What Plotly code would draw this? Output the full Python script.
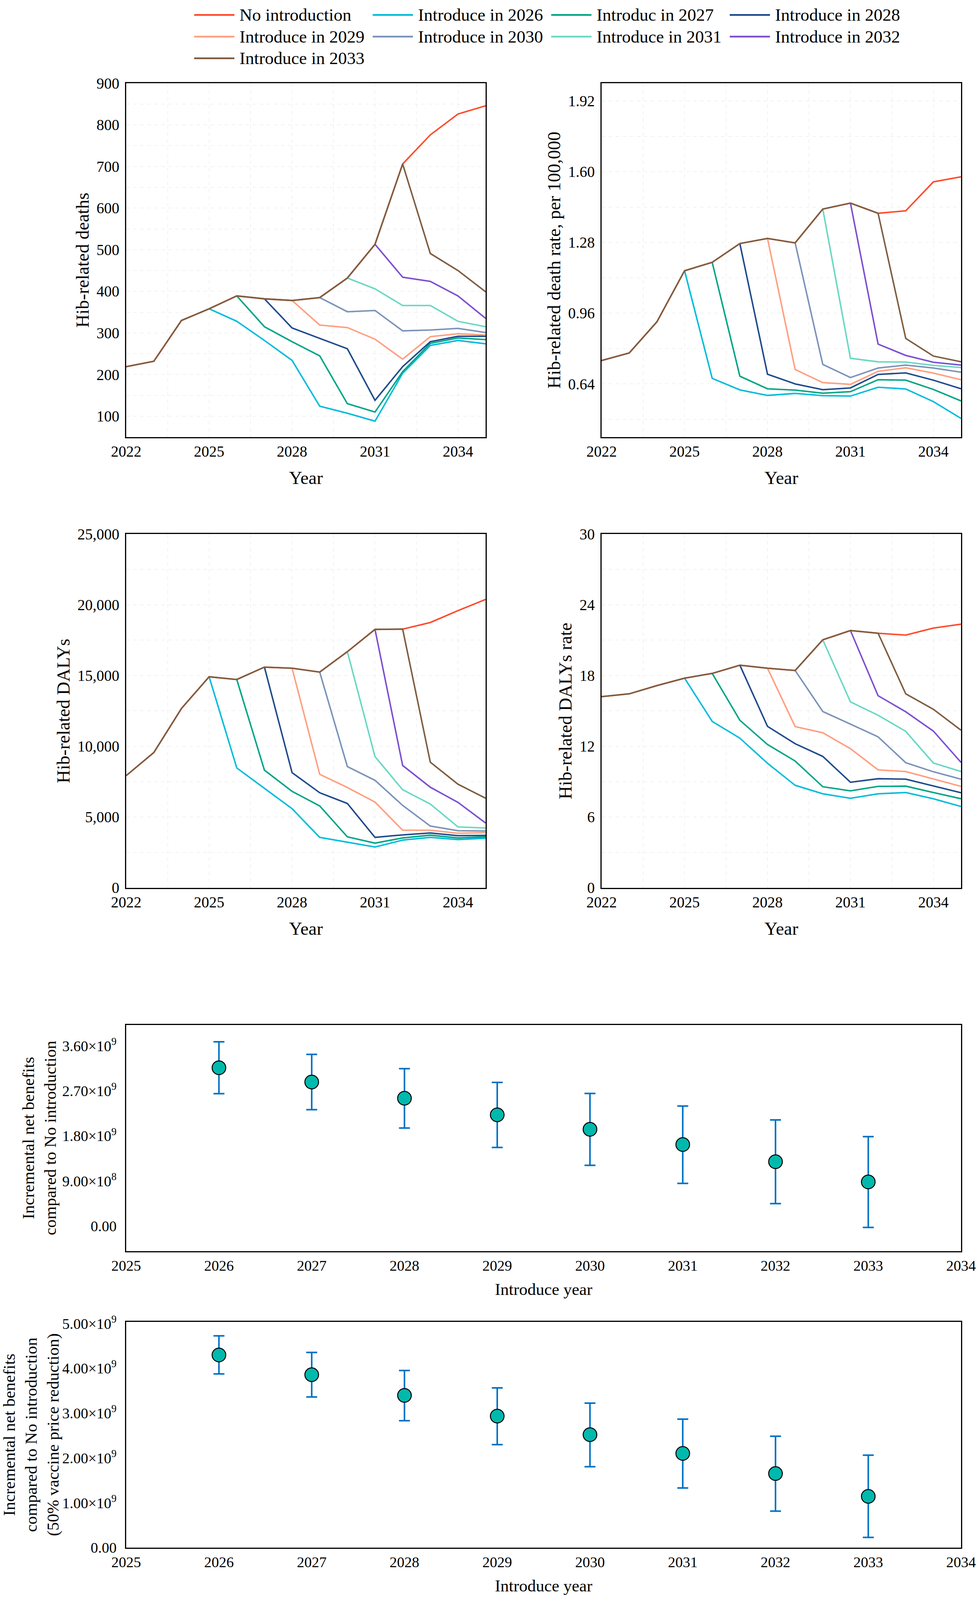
import plotly.graph_objects as go

# ---- data ----
years = list(range(2022, 2036))

scenario_names = ['No introduction', 'Introduce in 2026', 'Introduc in 2027', 'Introduce in 2028',
                  'Introduce in 2029', 'Introduce in 2030', 'Introduce in 2031', 'Introduce in 2032',
                  'Introduce in 2033']
scenario_colors = ['#FF4A2A', '#00BCDB', '#00A585', '#1F4A8C', '#FF9F80',
                   '#7B93B9', '#6AD8C3', '#7D4FD1', '#7E5D40']

N = None
deaths = [
    [219, 232, 330, 358, 389, 382, 378, 385, 432, 513, 706, 776, 826, 846],
    [N, N, N, 358, 328, 282, 234, 124, 107, 88, 203, 270, 282, 274],
    [N, N, N, N, 389, 315, 279, 245, 130, 110, 207, 275, 288, 284],
    [N, N, N, N, N, 382, 312, 287, 262, 138, 219, 279, 292, 292],
    [N, N, N, N, N, N, 378, 319, 313, 285, 237, 291, 298, 295],
    [N, N, N, N, N, N, N, 385, 351, 354, 305, 307, 311, 301],
    [N, N, N, N, N, N, N, N, 432, 406, 366, 366, 328, 315],
    [N, N, N, N, N, N, N, N, N, 513, 434, 424, 389, 335],
    [219, 232, 330, 358, 389, 382, 378, 385, 432, 513, 706, 491, 450, 399],
]

death_rate = [
    [0.746, 0.780, 0.921, 1.152, 1.190, 1.275, 1.298, 1.278, 1.431, 1.458, 1.412, 1.423, 1.554, 1.577],
    [N, N, N, 1.152, 0.665, 0.613, 0.588, 0.597, 0.587, 0.585, 0.625, 0.617, 0.560, 0.484],
    [N, N, N, N, 1.190, 0.675, 0.618, 0.612, 0.598, 0.605, 0.659, 0.657, 0.615, 0.563],
    [N, N, N, N, N, 1.275, 0.684, 0.640, 0.614, 0.622, 0.683, 0.690, 0.657, 0.618],
    [N, N, N, N, N, N, 1.298, 0.705, 0.646, 0.638, 0.697, 0.713, 0.689, 0.659],
    [N, N, N, N, N, N, N, 1.278, 0.728, 0.669, 0.712, 0.725, 0.712, 0.693],
    [N, N, N, N, N, N, N, N, 1.431, 0.756, 0.740, 0.739, 0.724, 0.714],
    [N, N, N, N, N, N, N, N, N, 1.458, 0.820, 0.769, 0.738, 0.725],
    [0.746, 0.780, 0.921, 1.152, 1.190, 1.275, 1.298, 1.278, 1.431, 1.458, 1.412, 0.846, 0.766, 0.740],
]

dalys = [
    [7925, 9560, 12675, 14914, 14720, 15596, 15518, 15245, 16686, 18263, 18283, 18750, 19587, 20385],
    [N, N, N, 14914, 8469, 7029, 5588, 3563, 3232, 2882, 3368, 3563, 3407, 3505],
    [N, N, N, N, 14720, 8314, 6815, 5783, 3602, 3154, 3524, 3719, 3524, 3602],
    [N, N, N, N, N, 15596, 8138, 6717, 5958, 3563, 3738, 3875, 3680, 3700],
    [N, N, N, N, N, N, 15518, 8022, 7087, 6055, 4069, 4069, 3855, 3894],
    [N, N, N, N, N, N, N, 15245, 8567, 7593, 5822, 4361, 4030, 4011],
    [N, N, N, N, N, N, N, N, 16686, 9268, 6931, 5919, 4303, 4225],
    [N, N, N, N, N, N, N, N, N, 18263, 8645, 7107, 6036, 4575],
    [7925, 9560, 12675, 14914, 14720, 15596, 15518, 15245, 16686, 18263, 18283, 8878, 7321, 6328],
]

daly_rate = [
    [16.21, 16.45, 17.15, 17.78, 18.18, 18.88, 18.62, 18.43, 21.03, 21.82, 21.59, 21.43, 22.03, 22.36],
    [N, N, N, 17.78, 14.11, 12.69, 10.56, 8.69, 7.97, 7.59, 7.97, 8.08, 7.55, 6.89],
    [N, N, N, N, 18.18, 14.21, 12.15, 10.75, 8.57, 8.22, 8.60, 8.62, 8.08, 7.55],
    [N, N, N, N, N, 18.88, 13.69, 12.22, 11.14, 8.95, 9.25, 9.21, 8.62, 8.06],
    [N, N, N, N, N, N, 18.62, 13.67, 13.15, 11.80, 10.00, 9.86, 9.23, 8.60],
    [N, N, N, N, N, N, N, 18.43, 14.95, 13.88, 12.80, 10.61, 9.84, 9.21],
    [N, N, N, N, N, N, N, N, 21.03, 15.77, 14.63, 13.27, 10.58, 9.86],
    [N, N, N, N, N, N, N, N, N, 21.82, 16.29, 14.93, 13.29, 10.63],
    [16.21, 16.45, 17.15, 17.78, 18.18, 18.88, 18.62, 18.43, 21.03, 21.82, 21.59, 16.45, 15.14, 13.36],
]

intro_years = [2026, 2027, 2028, 2029, 2030, 2031, 2032, 2033]
nb_mean = [3.163e9, 2.878e9, 2.554e9, 2.223e9, 1.934e9, 1.629e9, 1.287e9, 0.883e9]
nb_upper = [3.681e9, 3.430e9, 3.144e9, 2.870e9, 2.649e9, 2.398e9, 2.122e9, 1.787e9]
nb_lower = [2.646e9, 2.326e9, 1.960e9, 1.572e9, 1.214e9, 0.854e9, 0.449e9, -0.027e9]

nb50_mean = [4.299e9, 3.859e9, 3.397e9, 2.936e9, 2.521e9, 2.103e9, 1.654e9, 1.145e9]
nb50_upper = [4.726e9, 4.355e9, 3.953e9, 3.564e9, 3.226e9, 2.868e9, 2.487e9, 2.064e9]
nb50_lower = [3.876e9, 3.363e9, 2.833e9, 2.299e9, 1.808e9, 1.333e9, 0.816e9, 0.231e9]

nb_ticks = [0, 0.9e9, 1.8e9, 2.7e9, 3.6e9]
nb_ticktext = ['0.00', '9.00×10<sup>8</sup>', '1.80×10<sup>9</sup>', '2.70×10<sup>9</sup>', '3.60×10<sup>9</sup>']
nb50_ticks = [0, 1e9, 2e9, 3e9, 4e9, 5e9]
nb50_ticktext = ['0.00', '1.00×10<sup>9</sup>', '2.00×10<sup>9</sup>', '3.00×10<sup>9</sup>',
                 '4.00×10<sup>9</sup>', '5.00×10<sup>9</sup>']

# ---- figure ----
REF_W, REF_H = 2506, 4284   # reference picture, positions below are measured on it
FONT = 'Liberation Serif, Times New Roman, serif'
GRID = '#E6E6E6'


def px_x(p):
    return p / REF_W


def px_y(p):
    return 1 - p / REF_H


fig = go.Figure()

panels = [
    (deaths, '', ''),
    (death_rate, '2', '2'),
    (dalys, '3', '3'),
    (daly_rate, '4', '4'),
]
for values, xs, ys in panels:
    for name, color, row in zip(scenario_names, scenario_colors, values):
        fig.add_trace(go.Scatter(
            x=years, y=row, mode='lines', name=name,
            line=dict(color=color, width=3.8),
            xaxis='x' + xs, yaxis='y' + ys, showlegend=False,
        ))

for xs, ys, mean, up, low in [('5', '5', nb_mean, nb_upper, nb_lower),
                              ('6', '6', nb50_mean, nb50_upper, nb50_lower)]:
    fig.add_trace(go.Scatter(
        x=intro_years, y=mean, mode='markers',
        marker=dict(size=35, color='#00B9AD', line=dict(color='black', width=2.5)),
        error_y=dict(type='data', symmetric=False,
                     array=[u - m for u, m in zip(up, mean)],
                     arrayminus=[m - l for m, l in zip(mean, low)],
                     color='#0070C4', thickness=4, width=14),
        xaxis='x' + xs, yaxis='y' + ys, showlegend=False,
    ))


def line_x(dom, anchor):
    return dict(domain=dom, anchor=anchor, range=[2022, 2035], tick0=2022, dtick=3,
                showline=True, mirror=True, linecolor='black', linewidth=2.5,
                showgrid=True, gridcolor=GRID, griddash='dash', gridwidth=1,
                minor=dict(dtick=1.5, showgrid=True, gridcolor=GRID, griddash='dash', gridwidth=1),
                zeroline=False, ticks='', ticklabelstandoff=1,
                tickfont=dict(size=39, family=FONT, color='black'),
                title=dict(text='Year', font=dict(size=47, family=FONT, color='black'), standoff=30),
                automargin=False)


def line_y(dom, anchor, rng, dtick, minor, title, fmt, tick0=0):
    return dict(domain=dom, anchor=anchor, range=rng, tick0=tick0, dtick=dtick, tickformat=fmt,
                showline=True, mirror=True, linecolor='black', linewidth=2.5,
                showgrid=True, gridcolor=GRID, griddash='dash', gridwidth=1,
                minor=dict(dtick=minor, showgrid=True, gridcolor=GRID, griddash='dash', gridwidth=1),
                zeroline=False, ticks='', ticklabelstandoff=7,
                tickfont=dict(size=39, family=FONT, color='black'),
                title=dict(text=title, font=dict(size=47, family=FONT, color='black'), standoff=5),
                automargin=False)


def nb_x(dom, anchor):
    return dict(domain=dom, anchor=anchor, range=[2025, 2034], tick0=2025, dtick=1,
                showline=True, mirror=True, linecolor='black', linewidth=3,
                showgrid=False, zeroline=False, ticks='', ticklabelstandoff=1,
                tickfont=dict(size=38, family=FONT, color='black'),
                title=dict(text='Introduce year', font=dict(size=43, family=FONT, color='black'),
                           standoff=26),
                automargin=False)


def nb_y(dom, anchor, rng, tickvals, ticktext, title):
    return dict(domain=dom, anchor=anchor, range=rng, tickmode='array',
                tickvals=tickvals, ticktext=ticktext,
                showline=True, mirror=True, linecolor='black', linewidth=3,
                showgrid=False, zeroline=False, ticks='', ticklabelstandoff=14,
                tickfont=dict(size=38, family=FONT, color='black'),
                title=dict(text=title, font=dict(size=43, family=FONT, color='black'), standoff=3),
                automargin=False)


left = [px_x(323), px_x(1243)]
right = [px_x(1540), px_x(2460)]
full = [px_x(323), px_x(2460)]
row1 = [px_y(1170), px_y(223)]
row2 = [px_y(2377), px_y(1430)]
row3 = [px_y(3350), px_y(2744)]
row4 = [px_y(4144), px_y(3539)]

fig.update_layout(
    template='none',
    width=2506, height=4096, autosize=False,
    margin=dict(l=0, r=0, t=0, b=0),
    paper_bgcolor='white', plot_bgcolor='white',
    font=dict(family=FONT, color='black'),
    showlegend=False,
    xaxis=line_x(left, 'y'),
    yaxis=line_y(row1, 'x', [50, 900], 100, 50, 'Hib-related deaths', 'd'),
    xaxis2=line_x(right, 'y2'),
    yaxis2=line_y(row1, 'x2', [0.40, 2.00], 0.32, 0.16, 'Hib-related death rate, per 100,000', '.2f',
                  tick0=0.64),
    xaxis3=line_x(left, 'y3'),
    yaxis3=line_y(row2, 'x3', [0, 25000], 5000, 2500, 'Hib-related DALYs', ',d'),
    xaxis4=line_x(right, 'y4'),
    yaxis4=line_y(row2, 'x4', [0, 30], 6, 3, 'Hib-related DALYs rate', 'd'),
    xaxis5=nb_x(full, 'y5'),
    yaxis5=nb_y(row3, 'x5', [-0.5e9, 4.02e9], nb_ticks, nb_ticktext,
                'Incremental net benefits<br>compared to No introduction'),
    xaxis6=nb_x(full, 'y6'),
    yaxis6=nb_y(row4, 'x6', [0, 5.04e9], nb50_ticks, nb50_ticktext,
                'Incremental net benefits<br>compared to No introduction<br>(50% vaccine price reduction)'),
)

# legend drawn at the top: 4 columns
shapes = []
annotations = []
for i, (name, color) in enumerate(zip(scenario_names, scenario_colors)):
    col, row = i % 4, i // 4
    x0 = 497 + 457 * col
    yc = 40 + 58 * row
    shapes.append(dict(type='line', xref='paper', yref='paper',
                       x0=px_x(x0), x1=px_x(x0 + 103), y0=px_y(yc), y1=px_y(yc),
                       line=dict(color=color, width=4.5)))
    annotations.append(dict(text=name, xref='paper', yref='paper', x=px_x(x0 + 114), y=px_y(yc),
                            xanchor='left', yanchor='middle', showarrow=False,
                            font=dict(size=45, family=FONT, color='black')))
fig.update_layout(shapes=shapes, annotations=annotations)

# fit the figure to the browser window
fit = """
document.body.style.margin = '0';
document.body.style.overflow = 'hidden';
var gd = document.getElementById('{plot_id}');
Plotly.relayout(gd, {width: window.innerWidth, height: window.innerHeight});
"""
fig.write_html('out.html', post_script=fit, config={'displayModeBar': False})
